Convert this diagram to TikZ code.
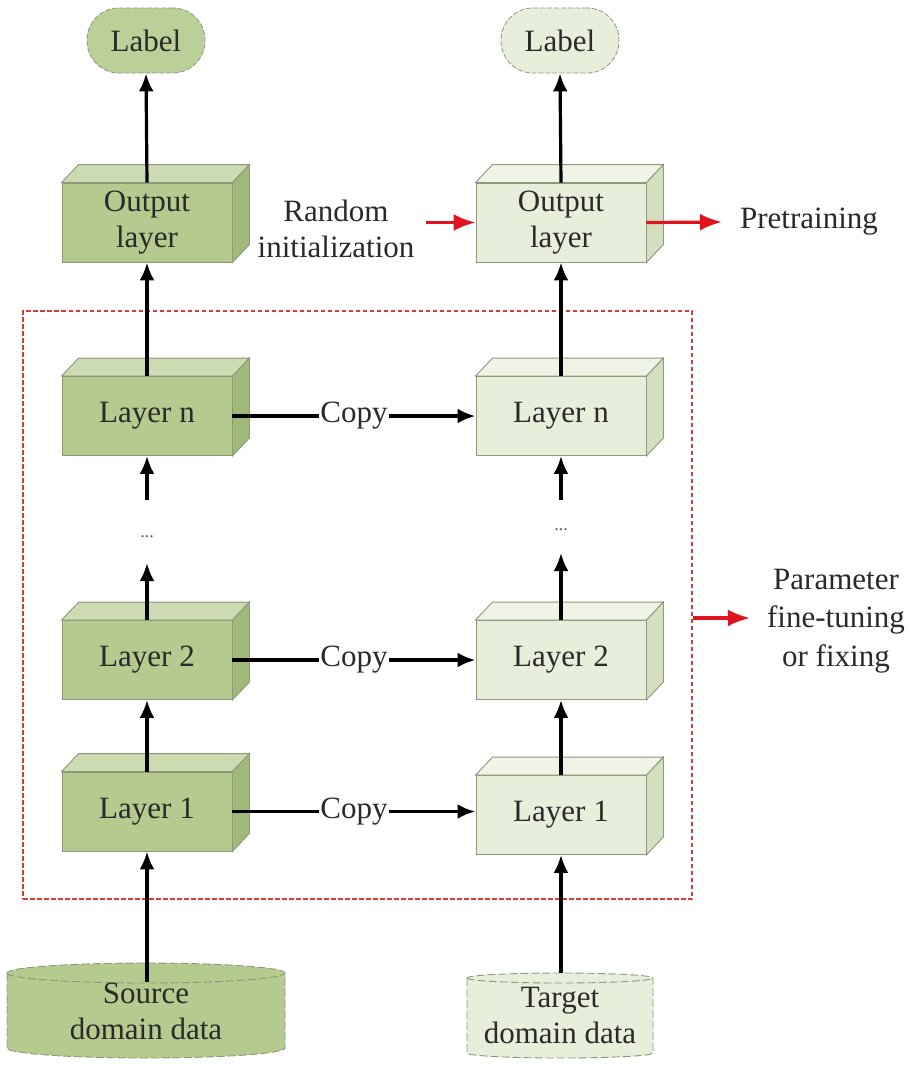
\documentclass[tikz,border=0pt]{standalone}
\usepackage{fontspec}
\setmainfont{Liberation Serif}
\usetikzlibrary{arrows.meta}
\definecolor{edgec}{HTML}{8C9A7C}
\definecolor{dfront}{HTML}{B4CA8E}
\definecolor{dtop}{HTML}{CCDBB1}
\definecolor{dside}{HTML}{A0B879}
\definecolor{lfront}{HTML}{E7EED9}
\definecolor{ltop}{HTML}{F0F4E6}
\definecolor{lside}{HTML}{D4DFBF}
\definecolor{redc}{HTML}{E0141E}
\definecolor{framec}{HTML}{D83A3A}
\definecolor{textc}{HTML}{2A2A2A}
\newcommand\mycube[3]{%
  \filldraw[draw=edgec, line width=0.9pt, fill=#2] (#1.north west) -- ([shift={(17,-18)}]#1.north west) -- ([shift={(17,-18)}]#1.north east) -- (#1.north east) -- cycle;
  \filldraw[draw=edgec, line width=0.9pt, fill=#3] (#1.north east) -- ([shift={(17,-18)}]#1.north east) -- ([shift={(17,-18)}]#1.south east) -- (#1.south east) -- cycle;}
\tikzset{
  cubebox/.style={draw=edgec, line width=0.9pt, minimum width=170pt, minimum height=79pt, inner sep=0pt, align=center, text=textc},
  pill/.style={draw=edgec, line width=0.8pt, dash pattern=on 5pt off 2pt, rounded corners=32pt, minimum width=118pt, minimum height=65pt, inner sep=0pt, text=textc},
  txt/.style={align=center, inner sep=0pt, text=textc},
  arr/.style={-{Latex[length=18pt,width=15pt]}, line width=3.2pt},
  redarr/.style={-{Latex[length=22pt,width=17pt]}, line width=3.2pt, draw=redc, color=redc},
  copylbl/.style={fill=white, inner sep=1pt, text=textc},
  cyl/.style={draw=edgec, line width=0.9pt, dash pattern=on 8pt off 3pt},
}
\begin{document}
\begin{tikzpicture}[x=1pt, y=-1pt, font=\fontsize{31}{36}\selectfont]
\useasboundingbox (0,0) rectangle (910,1072);
\fill[white] (0,0) rectangle (910,1072);

% frame
\node[draw=framec, line width=2.2pt, dash pattern=on 4.5pt off 2.5pt, minimum width=669pt, minimum height=588pt, inner sep=0pt] (frame) at (357.5,605) {};

% labels
\node[pill, fill=dfront!90!white] (ll) at (146,40.5) {Label};
\node[pill, fill=lfront] (rl) at (560,40.5) {Label};

% cubes left
\node[cubebox, fill=dfront] (lo) at (147,222.5) {Output\\layer};
\node[cubebox, fill=dfront] (lnn) at (147,416) {Layer n};
\node[cubebox, fill=dfront] (l2) at (147,660) {Layer 2};
\node[cubebox, fill=dfront] (l1) at (147,811.5) {Layer 1};
\mycube{lo}{dtop}{dside}
\mycube{lnn}{dtop}{dside}
\mycube{l2}{dtop}{dside}
\mycube{l1}{dtop}{dside}

% cubes right
\node[cubebox, fill=lfront] (ro) at (561,222.5) {Output\\layer};
\node[cubebox, fill=lfront] (rnn) at (561,416) {Layer n};
\node[cubebox, fill=lfront] (r2) at (561,660) {Layer 2};
\node[cubebox, fill=lfront] (r1) at (561,815) {Layer 1};
\mycube{ro}{ltop}{lside}
\mycube{rnn}{ltop}{lside}
\mycube{r2}{ltop}{lside}
\mycube{r1}{ltop}{lside}

% cylinders
\filldraw[cyl, fill=dfront] (7,973) -- (7,1048) arc[start angle=180, end angle=360, x radius=139pt, y radius=10pt] -- (285,973) arc[start angle=0, end angle=180, x radius=139pt, y radius=10pt] -- cycle;
\draw[cyl] (7,973) arc[start angle=180, end angle=360, x radius=139pt, y radius=10pt];
\filldraw[cyl, fill=lfront] (467,978) -- (467,1053) arc[start angle=180, end angle=360, x radius=93pt, y radius=5pt] -- (653,978) arc[start angle=0, end angle=180, x radius=93pt, y radius=5pt] -- cycle;
\draw[cyl] (467,978) arc[start angle=180, end angle=360, x radius=93pt, y radius=5pt];
\node[txt] (src) at (146,1011.5) {Source\\domain data};
\node[txt] (tgt) at (560,1015.5) {Target\\domain data};
\coordinate (srctop) at (147,982);
\coordinate (tgttop) at (561,973);

% dots
\node[txt, font=\fontsize{18}{18}\selectfont, text=black!65] (ldots) at (147,537) {...};
\node[txt, font=\fontsize{18}{18}\selectfont, text=black!65] (rdots) at (561,530) {...};
\coordinate (la) at (147,500);
\coordinate (lb) at (147,563);
\coordinate (ra) at (561,500);
\coordinate (rb) at (561,553);

% side texts
\node[txt] (ri) at (336,229) {Random\\initialization};
\node[txt] (pre) at (809,222) {Pretraining};
\node[txt, font=\fontsize{31}{38.5}\selectfont] (par) at (836,621) {Parameter\\fine-tuning\\or fixing};

% black arrows
\draw[arr] (lo.north) -- (ll.south);
\draw[arr] (ro.north) -- (rl.south);
\draw[arr] (lnn.north) -- (lo.south);
\draw[arr] (rnn.north) -- (ro.south);
\draw[arr] (la) -- (lnn.south);
\draw[arr] (ra) -- (rnn.south);
\draw[arr] (l2.north) -- (lb);
\draw[arr] (r2.north) -- (rb);
\draw[arr] (l1.north) -- (l2.south);
\draw[arr] (r1.north) -- (r2.south);
\draw[arr] (srctop) -- (l1.south);
\draw[arr] (tgttop) -- (r1.south);

% copy arrows
\draw[arr, line width=3.6pt] (lnn.east) -- node[copylbl] {Copy} (rnn.west);
\draw[arr, line width=3.6pt] (l2.east) -- node[copylbl] {Copy} (r2.west);
\draw[arr, line width=3.6pt] (l1.east) -- node[copylbl] {Copy} (l1.east -| r1.west);

% red arrows
\draw[redarr] ([xshift=11pt]ri.east |- ro.west) -- (ro.west);
\draw[redarr] (ro.east) -- ([xshift=-18pt]pre.west);
\draw[redarr] (frame.east |- par.west) ++(0,-3) -- ([shift={(-17,-3)}]par.west);
\end{tikzpicture}
\end{document}
